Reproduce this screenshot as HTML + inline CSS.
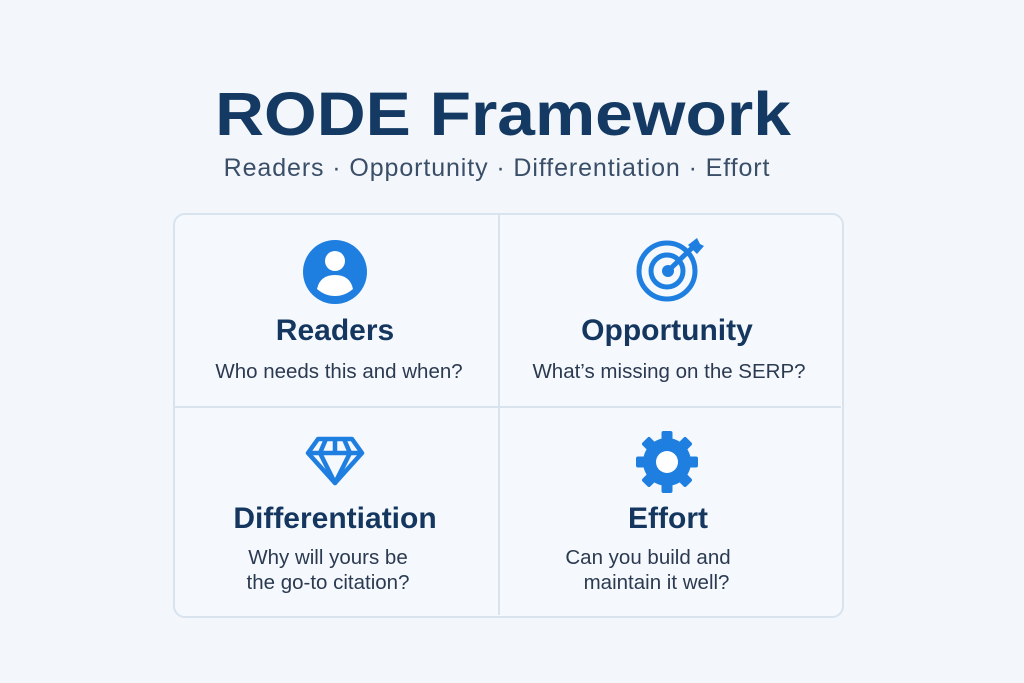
<!DOCTYPE html>
<html><head><style>
body{margin:0;width:1024px;height:683px;background:#f3f7fb;font-family:"Liberation Sans",sans-serif;position:relative;overflow:hidden}
.t{position:absolute;white-space:nowrap;text-align:center;transform:translateX(-50%)}
h1{position:absolute;margin:0;left:503px;top:79px;transform:translateX(-50%) scaleX(1.11);font-size:61px;font-weight:bold;color:#143a63;white-space:nowrap;letter-spacing:0px}
.sub{top:154px;font-size:25px;color:#3a4e68;letter-spacing:0.9px}
.box{position:absolute;left:173px;top:213px;width:667px;height:401px;border:2px solid #d8e3ee;border-radius:12px;background:#f5f9fd}
.vl{position:absolute;left:498px;top:214px;width:2px;height:401px;background:#d8e3ee}
.hl{position:absolute;left:174px;top:406px;width:667px;height:2px;background:#d8e3ee}
.hd{font-size:30px;font-weight:bold;color:#14365f}
.ds{font-size:20.5px;color:#2b3a50;line-height:25px}
</style></head><body>
<h1>RODE Framework</h1>
<div class="t sub" style="left:497px">Readers · Opportunity · Differentiation · Effort</div>
<div class="box"></div><div class="vl"></div><div class="hl"></div>
<svg width="1024" height="683" style="position:absolute;left:0;top:0">
<circle cx="335" cy="272" r="32" fill="#1f7fe0"/>
<circle cx="335" cy="261" r="10" fill="#fff"/>
<path d="M317 289 Q320 275 335 275 Q350 275 353 289 Q345 296 335 296 Q325 296 317 289Z" fill="#fff"/>
<g fill="none" stroke="#1f7fe0" stroke-width="5">
<circle cx="667" cy="271" r="28"/><circle cx="667" cy="271" r="16"/>
<line x1="668" y1="271" x2="693" y2="247"/>
</g>
<circle cx="668" cy="271" r="6" fill="#1f7fe0"/>
<path d="M688 245 L697 238 L700 244 L704 246 L697 254 Z" fill="#1f7fe0"/>
<g fill="none" stroke="#1f7fe0" stroke-width="4.5" stroke-linejoin="round">
<path d="M318 439 L352 439 L362 453 L335 483 L308 453 Z"/>
<line x1="308" y1="453" x2="362" y2="453"/>
<path d="M326 439 L320 453 L335 483 L350 453 L344 439"/>
<line x1="335" y1="439" x2="335" y2="453"/>
</g>
<g transform="translate(667,462)" fill="#1f7fe0">
<circle r="24"/>
<g id="tt"><rect x="-5.5" y="-31" width="11" height="12" rx="2"/></g>
<use href="#tt" transform="rotate(45)"/><use href="#tt" transform="rotate(90)"/><use href="#tt" transform="rotate(135)"/>
<use href="#tt" transform="rotate(180)"/><use href="#tt" transform="rotate(225)"/><use href="#tt" transform="rotate(270)"/><use href="#tt" transform="rotate(315)"/>
<circle r="11" fill="#fff"/>
</g>
</svg>
<div class="t hd" style="left:335px;top:314px">Readers</div>
<div class="t ds" style="left:339px;top:359px">Who needs this and when?</div>
<div class="t hd" style="left:667px;top:314px">Opportunity</div>
<div class="t ds" style="left:669px;top:359px">What’s missing on the SERP?</div>
<div class="t hd" style="left:335px;top:502px">Differentiation</div>
<div class="t ds" style="left:328px;top:545px">Why will yours be<br>the go-to citation?</div>
<div class="t hd" style="left:668px;top:502px">Effort</div>
<div class="t ds" style="left:648px;top:545px">Can you build and<br>&nbsp;&nbsp;&nbsp;maintain it well?</div>
</body></html>
